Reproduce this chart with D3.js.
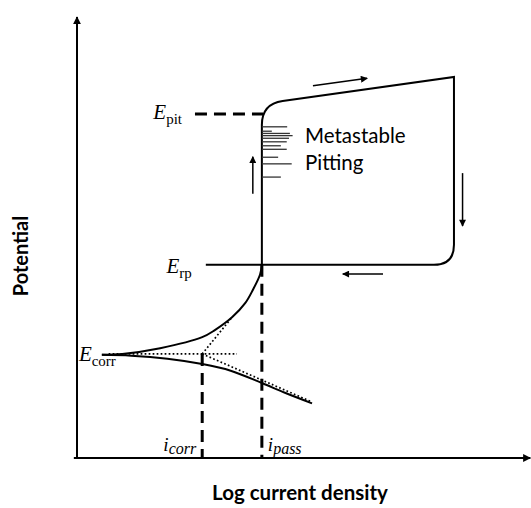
<!DOCTYPE html>
<html>
<head>
<meta charset="utf-8">
<script src="https://cdn.jsdelivr.net/npm/d3@7"></script>
<style>
  body { margin: 0; background: #fff; }
  svg { display: block; }
</style>
</head>
<body>
<script>
  // schematic cyclic polarisation curve, arbitrary units 0..100 on both axes
  var width = 531, height = 508;

  var levelNames = ["corr", "rp", "pit"];
  var levelValues = [23.5, 43.8, 78.0];
  var currentNames = ["corr", "pass"];
  var currentValues = [27.7, 40.9];

  var anodicLogI = [5.5, 10, 18.4, 27.7, 30.5, 34.3, 37.2, 38.9, 40.5, 40.9];
  var anodicE = [23.4, 23.6, 24.9, 27.4, 29.0, 31.9, 35.1, 38.1, 41.6, 43.8];
  var cathodicLogI = [5.5, 12, 20, 27.7, 34, 40.9, 46, 52];
  var cathodicE = [23.4, 23.2, 22.5, 21.3, 19.8, 17.0, 14.8, 12.4];

  // forward + reverse scan, corners rounded (radius in px)
  var scanLogI = [40.9, 40.9, 83.4, 83.4, 28.5];
  var scanE = [43.8, 80.3, 86.4, 43.8, 43.8];
  var scanRadius = [0, 21, 0, 20, 0];

  // metastable pitting transients
  var pitE = [75.1, 74.1, 73.6, 73.1, 72.5, 71.7, 70.8, 70.0, 68.2, 66.7, 63.7];
  var pitLogI = [46.5, 43.1, 47.1, 47.7, 46.9, 46.4, 45.1, 46.4, 44.5, 47.5, 45.1];

  // scan direction arrows
  var arrowX1 = [52.2, 85.3, 67.7, 38.9];
  var arrowY1 = [84.4, 64.6, 41.7, 59.9];
  var arrowX2 = [64.2, 85.3, 58.8, 38.9];
  var arrowY2 = [86.1, 52.6, 41.7, 68.3];

  var x = d3.scaleLinear().domain([0, 100]).range([77, 529]);
  var y = d3.scaleLinear().domain([0, 100]).range([458, 17]);

  var svg = d3.select("body").append("svg")
    .attr("width", width).attr("height", height);

  var defs = svg.append("defs");
  defs.append("marker").attr("id", "head")
    .attr("viewBox", "0 0 10 10").attr("refX", 9).attr("refY", 5)
    .attr("markerWidth", 9).attr("markerHeight", 7).attr("markerUnits", "userSpaceOnUse")
    .attr("orient", "auto")
    .append("path").attr("d", "M0,0L10,5L0,10Z").attr("fill", "#000");
  defs.append("marker").attr("id", "axhead")
    .attr("viewBox", "0 0 10 10").attr("refX", 9).attr("refY", 5)
    .attr("markerWidth", 8).attr("markerHeight", 8).attr("markerUnits", "userSpaceOnUse")
    .attr("orient", "auto")
    .append("path").attr("d", "M0,0L10,5L0,10Z").attr("fill", "#000");

  // axes
  svg.append("line")
    .attr("x1", x(0)).attr("y1", y(0)).attr("x2", x(0)).attr("y2", y(100))
    .attr("stroke", "#000").attr("stroke-width", 2).attr("marker-end", "url(#axhead)");
  svg.append("line")
    .attr("x1", x(-0.7)).attr("y1", y(0)).attr("x2", x(100.3)).attr("y2", y(0))
    .attr("stroke", "#000").attr("stroke-width", 2).attr("marker-end", "url(#axhead)");

  var line = d3.line()
    .x(function(d) { return x(d[0]); })
    .y(function(d) { return y(d[1]); });

  var smooth = d3.line()
    .x(function(d) { return x(d[0]); })
    .y(function(d) { return y(d[1]); })
    .curve(d3.curveCatmullRom.alpha(0.5));

  // dashed guide lines
  svg.append("path")
    .attr("d", line([[26.1, levelValues[2]], [41.2, levelValues[2]]]))
    .attr("fill", "none").attr("stroke", "#000").attr("stroke-width", 3)
    .attr("stroke-dasharray", "12,7");
  currentValues.forEach(function(c, i) {
    var top = i === 0 ? levelValues[0] + 0.1 : levelValues[1];
    svg.append("path")
      .attr("d", line([[c, top], [c, 0]]))
      .attr("fill", "none").attr("stroke", "#000").attr("stroke-width", 3)
      .attr("stroke-dasharray", "12,7");
  });

  // Tafel extrapolations (dotted)
  var dotted = [
    [[7, 23.6], [35.4, 23.6]],
    [[27.7, 23.6], [34.3, 31.9]],
    [[27.7, 23.6], [52, 12.7]]
  ];
  svg.selectAll(".tafel").data(dotted).enter().append("path")
    .attr("class", "tafel")
    .attr("d", line)
    .attr("fill", "none").attr("stroke", "#000").attr("stroke-width", 1.7)
    .attr("stroke-dasharray", "1.7,2.3");

  // anodic and cathodic branches
  svg.append("path")
    .attr("d", smooth(anodicLogI.map(function(v, i) { return [v, anodicE[i]]; })))
    .attr("fill", "none").attr("stroke", "#000").attr("stroke-width", 2);
  svg.append("path")
    .attr("d", smooth(cathodicLogI.map(function(v, i) { return [v, cathodicE[i]]; })))
    .attr("fill", "none").attr("stroke", "#000").attr("stroke-width", 2);

  // scan loop with rounded corners
  var pts = scanLogI.map(function(v, i) { return [x(v), y(scanE[i])]; });
  var p = d3.path();
  p.moveTo(pts[0][0], pts[0][1]);
  for (var i = 1; i < pts.length; i++) {
    var r = scanRadius[i];
    if (r > 0 && i < pts.length - 1) {
      var a = pts[i - 1], b = pts[i], c = pts[i + 1];
      var d1 = Math.hypot(b[0] - a[0], b[1] - a[1]);
      var d2 = Math.hypot(c[0] - b[0], c[1] - b[1]);
      p.lineTo(b[0] - (b[0] - a[0]) / d1 * r, b[1] - (b[1] - a[1]) / d1 * r);
      p.quadraticCurveTo(b[0], b[1], b[0] + (c[0] - b[0]) / d2 * r, b[1] + (c[1] - b[1]) / d2 * r);
    } else {
      p.lineTo(pts[i][0], pts[i][1]);
    }
  }
  svg.append("path").attr("d", p.toString())
    .attr("fill", "none").attr("stroke", "#000").attr("stroke-width", 2)
    .attr("stroke-linejoin", "miter");

  // metastable pitting transients
  svg.selectAll(".pit").data(pitE).enter().append("line")
    .attr("class", "pit")
    .attr("x1", x(currentValues[1]))
    .attr("x2", function(d, i) { return x(pitLogI[i]); })
    .attr("y1", function(d) { return y(d); })
    .attr("y2", function(d) { return y(d); })
    .attr("stroke", "#333").attr("stroke-width", 1.3);

  // direction arrows
  svg.selectAll(".arrow").data(arrowX1).enter().append("line")
    .attr("class", "arrow")
    .attr("x1", function(d) { return x(d); })
    .attr("y1", function(d, i) { return y(arrowY1[i]); })
    .attr("x2", function(d, i) { return x(arrowX2[i]); })
    .attr("y2", function(d, i) { return y(arrowY2[i]); })
    .attr("stroke", "#000").attr("stroke-width", 1.5)
    .attr("marker-end", "url(#head)");

  // potential labels
  var serif = "'Liberation Serif', 'Times New Roman', serif";
  function eLabel(ax, ay, anchor, sub) {
    var t = svg.append("text")
      .attr("x", ax).attr("y", ay)
      .attr("text-anchor", anchor)
      .style("font-family", serif).style("fill", "#000");
    t.append("tspan").text("E").style("font-style", "italic").style("font-size", "21px");
    t.append("tspan").text(sub).attr("dy", 5).style("font-size", "15px");
  }
  eLabel(x(26.1) - 13, y(levelValues[2]) + 5, "end", levelNames[2]);
  eLabel(x(28.5) - 14, y(levelValues[1]) + 8, "end", levelNames[1]);
  eLabel(x(5.5) + 14, y(levelValues[0]) + 7, "end", levelNames[0]);

  function iLabel(ax, anchor, sub) {
    var t = svg.append("text")
      .attr("x", ax).attr("y", y(0) - 7)
      .attr("text-anchor", anchor)
      .style("font-family", serif).style("font-style", "italic").style("fill", "#000");
    t.append("tspan").text("i").style("font-size", "19px");
    t.append("tspan").text(sub).attr("dy", 3).style("font-size", "16px");
  }
  iLabel(x(currentValues[0]) - 6, "end", currentNames[0]);
  iLabel(x(currentValues[1]) + 6, "start", currentNames[1]);

  // annotation
  var sans = "Lato, 'Open Sans', sans-serif";
  svg.append("text").attr("x", 305).attr("y", 143)
    .style("font-family", sans).style("font-size", "20.5px").text("Metastable");
  svg.append("text").attr("x", 305).attr("y", 170)
    .style("font-family", sans).style("font-size", "20.5px").text("Pitting");

  // axis titles
  svg.append("text")
    .attr("transform", "translate(28,256) rotate(-90)")
    .attr("text-anchor", "middle")
    .style("font-family", sans).style("font-weight", "bold").style("font-size", "20px")
    .text("Potential");
  svg.append("text")
    .attr("x", 300).attr("y", 500)
    .attr("text-anchor", "middle")
    .style("font-family", sans).style("font-weight", "bold").style("font-size", "20.5px")
    .text("Log current density");
</script>
</body>
</html>
